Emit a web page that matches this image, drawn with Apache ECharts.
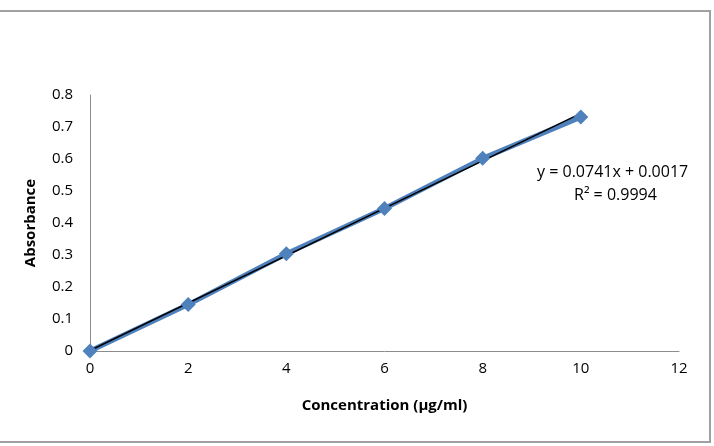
<!DOCTYPE html>
<html><head><meta charset="utf-8">
<script src="https://cdn.jsdelivr.net/npm/echarts@6/dist/echarts.min.js"></script>
<style>html,body{margin:0;padding:0;background:#fff}#c{width:714px;height:446px}</style>
</head><body><div id="c"></div>
<script>
const concentration = [0, 2, 4, 6, 8, 10];
const absorbance = [0, 0.145, 0.304, 0.445, 0.602, 0.731];
const trendSlope = 0.0741;
const trendIntercept = 0.0017;
const trendX = [0, 10];
const equationText = 'y = 0.0741x + 0.0017';
const r2Text = 'R² = 0.9994';

const font = '"Open Sans", "Noto Sans", sans-serif';
const chart = echarts.init(document.getElementById('c'));
chart.setOption({
  animation: false,
  grid: {left: 90, right: 35, top: 95, bottom: 95},
  xAxis: {
    type: 'value', min: 0, max: 12, interval: 2,
    name: 'Concentration (µg/ml)', nameLocation: 'middle', nameGap: 47,
    nameTextStyle: {fontFamily: font, fontWeight: 'bold', fontSize: 15, color: '#000'},
    axisLine: {lineStyle: {color: '#8c8c8c', width: 1}},
    axisTick: {show: false},
    splitLine: {show: false},
    axisLabel: {fontFamily: font, fontSize: 15, color: '#000', margin: 10}
  },
  yAxis: {
    type: 'value', min: 0, max: 0.8, interval: 0.1,
    name: 'Absorbance', nameLocation: 'middle', nameGap: 52,
    nameTextStyle: {fontFamily: font, fontWeight: 'bold', fontSize: 15, color: '#000'},
    axisLine: {show: true, lineStyle: {color: '#8c8c8c', width: 1}},
    axisTick: {show: false},
    splitLine: {show: false},
    axisLabel: {fontFamily: font, fontSize: 15, color: '#000', margin: 17}
  },
  series: [
    {
      type: 'line',
      data: concentration.map((x, i) => [x, absorbance[i]]),
      symbol: 'diamond', symbolSize: 15,
      itemStyle: {color: '#4F81BD'},
      lineStyle: {color: '#4F81BD', width: 5}
    },
    {
      type: 'line',
      data: trendX.map(x => [x, trendSlope * x + trendIntercept]),
      symbol: 'none',
      lineStyle: {color: '#000', width: 1.5}
    }
  ],
  graphic: [
    {type: 'rect', shape: {x: -2, y: 11, width: 712, height: 431},
     style: {fill: 'none', stroke: '#a0a0a0', lineWidth: 2}, silent: true},
    {type: 'text', left: 537, top: 164,
     style: {text: equationText, fontFamily: font, fontSize: 16, fill: '#000'}},
    {type: 'text', left: 574, top: 187,
     style: {text: r2Text, fontFamily: font, fontSize: 16, fill: '#000'}}
  ]
});
</script></body></html>
